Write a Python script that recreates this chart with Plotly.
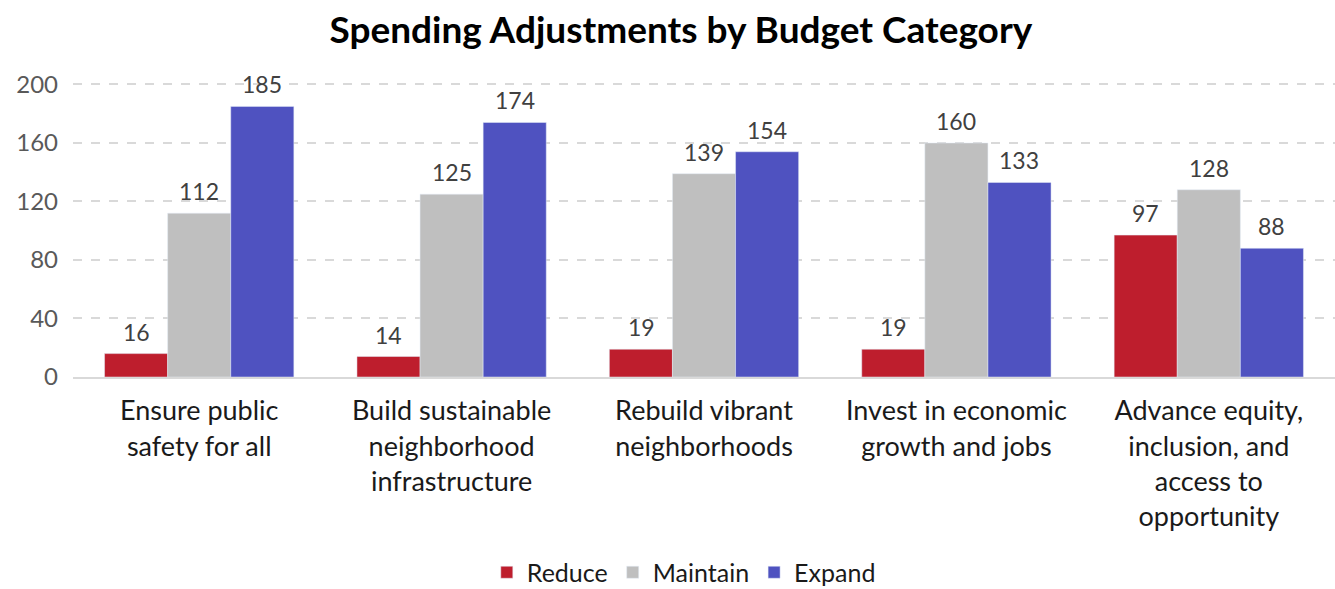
import plotly.graph_objects as go

categories = ["Ensure public<br>safety for all", "Build sustainable<br>neighborhood<br>infrastructure",
              "Rebuild vibrant<br>neighborhoods", "Invest in economic<br>growth and jobs",
              "Advance equity,<br>inclusion, and<br>access to<br>opportunity"]
reduce_vals = [16, 14, 19, 19, 97]
maintain_vals = [112, 125, 139, 160, 128]
expand_vals = [185, 174, 154, 133, 88]
series = [("Reduce", reduce_vals, "#BE1E2D"), ("Maintain", maintain_vals, "#BFBFBF"),
          ("Expand", expand_vals, "#4F52C0")]

fig = go.Figure()
bar_px = 63  # approximate pixel width of one bar for label offset
for i, (name, vals, color) in enumerate(series):
    fig.add_trace(go.Bar(x=categories, y=vals, name=name, marker_color=color))
    for c, v in zip(categories, vals):
        fig.add_annotation(x=c, y=v, xref="x", yref="y", text=str(v), showarrow=False,
                           xshift=(i - 1) * bar_px, yshift=22, yanchor="middle",
                           font=dict(family="Lato", size=23, color="#404040"))

fig.update_layout(
    width=1335, height=589,
    margin=dict(l=73, r=0, t=83, b=212, autoexpand=False),
    paper_bgcolor="white", plot_bgcolor="white",
    barmode="group", bargap=0.25, bargroupgap=0,
    font=dict(family="Lato", color="#404040"),
    title=dict(text="<b>Spending Adjustments by Budget Category</b>", x=0.51, xanchor="center",
               y=0.949, yanchor="middle", font=dict(family="Lato", size=37, color="black")),
    legend=dict(orientation="h", x=0.484, xanchor="center", y=-0.665, yanchor="middle",
                font=dict(family="Lato", size=25, color="#1a1a1a"), traceorder="normal",
                itemwidth=30),
    yaxis=dict(range=[0, 201], dtick=40, showgrid=True, gridcolor="#D9D9D9", griddash="dash",
               gridwidth=1.5, zeroline=False, tickfont=dict(family="Lato", size=24, color="#595959"),
               ticklabelstandoff=14, showline=False, automargin=False),
    xaxis=dict(tickfont=dict(family="Lato", size=27, color="#1a1a1a"), showline=True,
               linecolor="#D9D9D9", linewidth=2, ticks="", automargin=False, ticklabelstandoff=9),
)
fig.write_html("out.html")
